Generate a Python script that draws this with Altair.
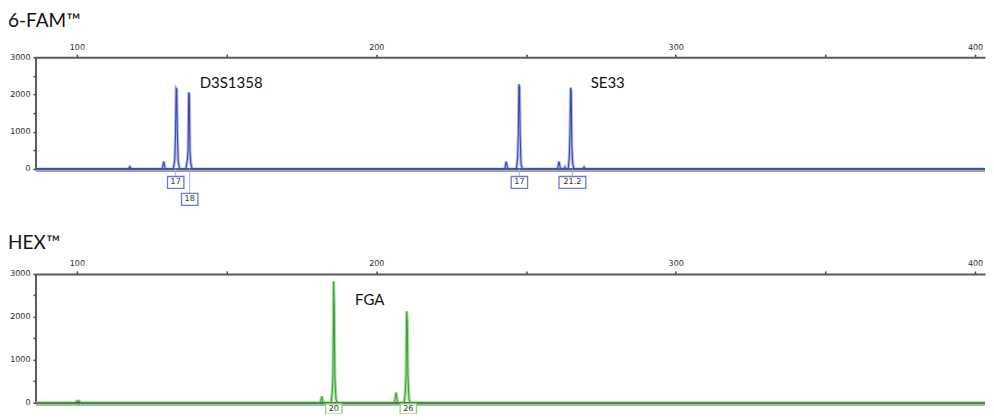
import altair as alt
import pandas as pd

# ---------------- data ----------------
# 6-FAM trace (size in bp, signal in RFU)
fam_size = [86.3, 117.2, 117.7, 118.2, 128.5, 129.0, 129.5,
            132.2, 132.7, 132.95, 133.15, 133.35, 133.55, 133.85, 134.3,
            136.4, 136.9, 137.15, 137.35, 137.55, 137.75, 138.05, 138.5,
            242.9, 243.4, 243.9,
            246.8, 247.2, 247.45, 247.65, 247.85, 248.05, 248.35, 248.8,
            260.5, 261.0, 261.5, 262.7, 263.0, 263.4,
            264.1, 264.45, 264.7, 264.9, 265.1, 265.3, 265.6, 266.0,
            269.0, 269.4, 269.8, 405.7]
fam_rfu = [0, 0, 60, 0, 0, 200, 0,
           0, 250, 950, 2160, 2140, 960, 200, 0,
           0, 250, 500, 2050, 2000, 480, 150, 0,
           0, 200, 0,
           0, 300, 950, 2270, 2200, 900, 120, 0,
           0, 200, 20, 0, 50, 0,
           0, 300, 950, 2180, 2100, 620, 150, 0,
           0, 50, 0, 0]

# HEX trace
hex_size = [86.3, 99.5, 100.0, 100.8, 101.3,
            181.3, 181.8, 182.3,
            184.9, 185.3, 185.55, 185.75, 185.95, 186.15, 186.5, 186.9,
            206.1, 206.6, 207.1,
            209.3, 209.7, 209.95, 210.15, 210.35, 210.55, 210.9, 211.3,
            405.7]
hex_rfu = [0, 0, 40, 40, 0,
           0, 147, 0,
           0, 250, 650, 2830, 2250, 650, 100, 0,
           0, 240, 0,
           0, 250, 650, 2130, 1900, 650, 100, 0,
           0]

# allele call boxes
fam_allele = ["17", "18", "17", "21.2"]
fam_allele_pos = [133.0, 137.67, 247.8, 265.5]
fam_allele_row = [1, 2, 1, 1]
hex_allele = ["20", "26"]
hex_allele_pos = [185.8, 210.7]
hex_allele_row = [1, 1]

# locus names
fam_loci = ["D3S1358", "SE33"]
fam_loci_pos = [141.0, 271.6]
fam_loci_rfu = [2317, 2312]
hex_loci = ["FGA"]
hex_loci_pos = [192.9]
hex_loci_rfu = [2385]

size_ticks = list(range(100, 401, 50))
rfu_ticks = list(range(0, 3001, 500))

PX_PER_BP = 2.997
W = 950
X_MIN = 86.33
X_MAX = X_MIN + W / PX_PER_BP
AXIS_COL = "#5a5a5a"


def panel(title, size, rfu, alle, alle_pos, alle_row, loci, loci_pos, loci_rfu,
          ymin, height, row_px, box_h, halo, core, base_col, box_col, conn_col, toff):
    k = height / (3000 - ymin)  # px per RFU
    xs = alt.Scale(domain=[X_MIN, X_MAX], nice=False, zero=False)
    ys = alt.Scale(domain=[ymin, 3000], nice=False, zero=False)
    xax = alt.Axis(orient="top", values=size_ticks, format="d", title=None, grid=False,
                   labelExpr="datum.value % 100 == 0 ? datum.label : ''")
    yax = alt.Axis(values=rfu_ticks, format="d", title=None, grid=False, domain=False,
                   minExtent=28, maxExtent=28,
                   labelExpr="datum.value % 1000 == 0 ? datum.label : ''")

    def X(f):
        return alt.X(f, type="quantitative", scale=xs, axis=xax)

    def Y(f):
        return alt.Y(f, type="quantitative", scale=ys, axis=yax)

    trace = pd.DataFrame({"size": size, "rfu": rfu})
    zero = pd.DataFrame({"v": [0], "top": [3000]})

    rows = []
    for lab, p, r in zip(alle, alle_pos, alle_row):
        hw = (len(lab) * 2.6 + 3) / PX_PER_BP
        hh = box_h / 2 / k
        yc = -row_px[r] / k
        rows.append({"label": lab, "pos": p, "yc": yc, "x1": p - hw, "x2": p + hw,
                     "y1": yc - hh, "y2": yc + hh, "zero": 0})
    bdf = pd.DataFrame(rows)
    ldf = pd.DataFrame({"name": loci, "pos": loci_pos, "rfu": loci_rfu})

    gray_base = alt.Chart(zero).mark_rule(color="#9a9a9a", strokeWidth=2, yOffset=2).encode(y=Y("v"))
    yline = alt.Chart(zero).mark_rule(color=AXIS_COL, strokeWidth=2).encode(
        x=alt.value(0), y=Y("v"), y2="top")
    halo_line = alt.Chart(trace).mark_line(color=halo, strokeWidth=3.2, clip=True).encode(
        x=X("size"), y=Y("rfu"))
    base_line = alt.Chart(zero).mark_rule(color=base_col, strokeWidth=1.8).encode(y=Y("v"))
    core_line = alt.Chart(trace).mark_line(color=core, strokeWidth=1.1, clip=True).encode(
        x=X("size"), y=Y("rfu"))
    conn = alt.Chart(bdf).mark_rule(color=conn_col, strokeWidth=1).encode(
        x=X("pos"), y=Y("zero"), y2="y2")
    box = alt.Chart(bdf).mark_rect(fill="white", stroke=box_col, strokeWidth=1.3, clip=True).encode(
        x=X("x1"), x2="x2", y=Y("y1"), y2="y2")
    btxt = alt.Chart(bdf).mark_text(font="DejaVu Sans", fontSize=8, color="#333", baseline="middle").encode(
        x=X("pos"), y=Y("yc"), text="label")
    ltxt = alt.Chart(ldf).mark_text(font="Lato", fontSize=15, color="#111", align="left",
                                    baseline="middle").encode(x=X("pos"), y=Y("rfu"), text="name")

    return alt.layer(gray_base, yline, halo_line, base_line, core_line, conn, box, btxt, ltxt).properties(
        width=W, height=height,
        title=alt.TitleParams(title, anchor="start", frame="bounds", fontSize=19, font="Lato",
                              fontWeight="normal", color="#111", offset=toff))


p1 = panel("6-FAM™", fam_size, fam_rfu, fam_allele, fam_allele_pos, fam_allele_row,
           fam_loci, fam_loci_pos, fam_loci_rfu, -1100, 153, {1: 13.5, 2: 30.5}, 12,
           "#b7bde8", "#3848ad", "#5060a8", "#6f7ac9", "#a7aee0", 12)
p2 = panel("HEX™", hex_size, hex_rfu, hex_allele, hex_allele_pos, hex_allele_row,
           hex_loci, hex_loci_pos, hex_loci_rfu, -256, 140, {1: 6}, 10,
           "#a9de9a", "#3ea33e", "#2e6b2e", "#8fcf7e", "#a9de9a", 7)

chart = alt.vconcat(p1, p2, spacing=24).properties(
    padding={"top": 4, "left": 0, "right": 0, "bottom": 0}, background="white"
).configure_view(
    stroke=None
).configure_axis(
    labelFont="DejaVu Sans", labelFontSize=8, labelColor="#2a2a2a", tickColor="#444",
    domainColor=AXIS_COL, domainWidth=2, tickSize=3, tickWidth=1.5, labelPadding=3
)

chart.save("out.html", embed_options={"renderer": "svg", "actions": False})
